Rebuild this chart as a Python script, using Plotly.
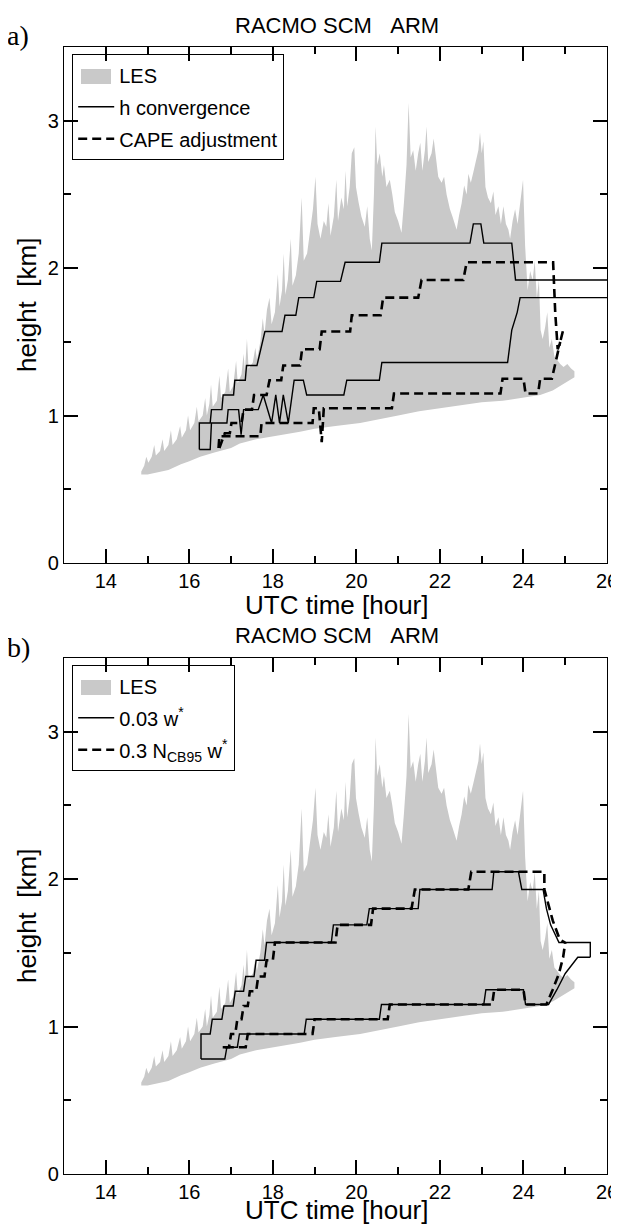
#!/usr/bin/env python3
"""
RACMO SCM, ARM case: cloud base / cloud top height from LES (grey band)
against two SCM closures per panel.

  a) h convergence vs CAPE adjustment
  b) 0.03 w* vs 0.3 N_CB95 w*
"""

import plotly.graph_objects as go

# LES cloud layer envelope (same in both panels), hours / km
les_top_x = [14.85, 14.92, 14.97, 15.02, 15.10, 15.16, 15.20, 15.30, 15.36, 15.40,
             15.50, 15.56, 15.60, 15.70, 15.78, 15.82, 15.92, 15.97, 16.02, 16.12,
             16.18, 16.22, 16.32, 16.38, 16.42, 16.48, 16.52, 16.56, 16.66, 16.72,
             16.76, 16.86, 16.93, 16.97, 17.05, 17.12, 17.16, 17.25, 17.30, 17.33,
             17.38, 17.42, 17.52, 17.58, 17.62, 17.70, 17.76, 17.80, 17.86, 17.92,
             17.97, 18.05, 18.12, 18.16, 18.22, 18.26, 18.30, 18.36, 18.43, 18.47,
             18.55, 18.62, 18.69, 18.74, 18.82, 18.90, 18.96, 19.02, 19.07, 19.14,
             19.22, 19.28, 19.33, 19.38, 19.46, 19.52, 19.56, 19.64, 19.70, 19.74,
             19.78, 19.84, 19.89, 19.95, 19.99, 20.05, 20.12, 20.20, 20.26, 20.32,
             20.37, 20.42, 20.46, 20.50, 20.56, 20.62, 20.66, 20.72, 20.80, 20.86,
             20.92, 21.00, 21.08, 21.14, 21.20, 21.25, 21.30, 21.36, 21.42, 21.48,
             21.53, 21.58, 21.64, 21.68, 21.72, 21.80, 21.85, 21.90, 21.96, 22.04,
             22.10, 22.16, 22.24, 22.30, 22.40, 22.46, 22.52, 22.58, 22.64, 22.68,
             22.74, 22.80, 22.86, 22.92, 22.96, 23.00, 23.04, 23.09, 23.15, 23.22,
             23.28, 23.33, 23.40, 23.46, 23.52, 23.58, 23.64, 23.68, 23.74, 23.80,
             23.86, 23.92, 23.99, 24.04, 24.10, 24.16, 24.22, 24.27, 24.32, 24.37,
             24.41, 24.46, 24.52, 24.57, 24.62, 24.68, 24.74, 24.80, 24.88, 24.96,
             25.05, 25.14, 25.22]
les_top_y = [0.62, 0.66, 0.72, 0.68, 0.72, 0.80, 0.73, 0.76, 0.84, 0.76,
             0.80, 0.90, 0.80, 0.84, 0.93, 0.85, 0.90, 1.00, 0.90, 0.95,
             1.06, 0.96, 1.00, 1.12, 1.00, 1.08, 1.21, 1.06, 1.10, 1.27,
             1.12, 1.16, 1.32, 1.16, 1.20, 1.37, 1.22, 1.28, 1.42, 1.30,
             1.52, 1.32, 1.36, 1.46, 1.38, 1.50, 1.66, 1.55, 1.72, 1.80,
             1.62, 1.70, 1.96, 1.74, 1.85, 2.10, 1.82, 1.92, 2.20, 1.88,
             1.95, 2.10, 2.48, 2.05, 2.10, 2.28, 2.40, 2.62, 2.30, 2.20,
             2.32, 2.28, 2.44, 2.22, 2.35, 2.60, 2.32, 2.48, 2.40, 2.66,
             2.42, 2.55, 2.78, 2.82, 2.55, 2.45, 2.35, 2.28, 2.42, 2.20,
             2.12, 2.50, 2.96, 2.70, 2.78, 2.62, 2.70, 2.55, 2.60, 2.50,
             2.38, 2.32, 2.24, 2.45, 2.70, 3.12, 2.75, 2.80, 2.66, 2.78,
             2.85, 2.66, 2.80, 2.96, 2.72, 2.78, 2.88, 2.76, 2.62, 2.58,
             2.62, 2.50, 2.40, 2.35, 2.26, 2.36, 2.44, 2.56, 2.50, 2.64,
             2.58, 2.65, 2.72, 2.80, 2.92, 2.78, 2.86, 2.55, 2.48, 2.44,
             2.52, 2.36, 2.42, 2.30, 2.42, 2.30, 2.26, 2.20, 2.32, 2.40,
             2.30, 2.46, 2.60, 2.15, 1.85, 1.98, 1.92, 2.05, 1.80, 1.92,
             1.58, 1.52, 1.60, 1.70, 1.46, 1.52, 1.40, 1.38, 1.35, 1.33,
             1.35, 1.32, 1.30]
les_base_x = [14.85, 15.0, 15.3, 15.5, 15.8, 16.0, 16.26, 16.6, 17.0, 17.21,
              17.6, 18.0, 18.65, 19.0, 19.5, 20.09, 20.5, 21.0, 21.5, 22.0,
              22.5, 23.0, 23.5, 24.0, 24.4, 24.7, 25.0, 25.22]
les_base_y = [0.60, 0.60, 0.62, 0.63, 0.67, 0.69, 0.72, 0.75, 0.78, 0.81,
              0.84, 0.86, 0.89, 0.91, 0.93, 0.95, 0.97, 1.00, 1.03, 1.05,
              1.07, 1.09, 1.10, 1.12, 1.14, 1.17, 1.22, 1.26]

# a) h convergence (solid): cloud top and cloud base
hconv_top_x = [16.24, 16.24, 16.50, 16.53, 16.78, 16.81, 17.06, 17.09, 17.34, 17.37,
               17.62, 17.81, 18.22, 18.29, 18.55, 18.62, 18.98, 19.05, 19.62, 19.73,
               20.55, 20.61, 22.72, 22.80, 22.98, 23.05, 23.72, 23.81, 26.0]
hconv_top_y = [0.77, 0.95, 0.95, 1.04, 1.04, 1.14, 1.14, 1.24, 1.24, 1.34,
               1.34, 1.57, 1.57, 1.68, 1.68, 1.80, 1.80, 1.91, 1.91, 2.04,
               2.04, 2.17, 2.17, 2.30, 2.30, 2.17, 2.17, 1.92, 1.92]
hconv_base_x = [16.24, 16.50, 16.53, 16.90, 16.93, 17.18, 17.24, 17.30, 17.65, 17.77,
                17.97, 18.07, 18.16, 18.25, 18.37, 18.51, 18.73, 18.81, 19.70, 19.77,
                20.55, 20.61, 23.62, 23.72, 23.85, 23.92, 26.0]
hconv_base_y = [0.77, 0.77, 0.95, 0.95, 1.04, 1.04, 0.87, 1.04, 1.04, 1.14,
                0.95, 1.14, 0.95, 1.14, 0.95, 1.24, 1.24, 1.14, 1.14, 1.24,
                1.24, 1.36, 1.36, 1.58, 1.70, 1.80, 1.80]

# a) CAPE adjustment (dashed)
cape_top_x = [16.72, 16.85, 16.97, 17.01, 17.25, 17.30, 17.50, 17.55, 17.85, 17.92,
              18.20, 18.25, 18.65, 18.70, 19.12, 19.17, 19.85, 19.89, 20.58, 20.64,
              21.48, 21.56, 22.56, 22.64, 24.71, 24.76, 24.82, 24.88, 24.95]
cape_top_y = [0.78, 0.88, 0.88, 0.95, 0.95, 1.04, 1.04, 1.14, 1.14, 1.24,
              1.24, 1.34, 1.34, 1.45, 1.45, 1.57, 1.57, 1.68, 1.68, 1.80,
              1.80, 1.92, 1.92, 2.04, 2.04, 1.70, 1.45, 1.50, 1.58]
cape_base_x = [16.70, 16.72, 17.70, 17.73, 18.95, 18.98, 19.10, 19.17, 19.22, 20.85,
               20.90, 23.45, 23.50, 24.00, 24.05, 24.35, 24.40, 24.68, 24.80, 24.88]
cape_base_y = [0.78, 0.86, 0.86, 0.95, 0.95, 1.05, 1.05, 0.82, 1.05, 1.05,
               1.15, 1.15, 1.25, 1.25, 1.15, 1.15, 1.25, 1.25, 1.40, 1.50]

# b) 0.03 w* (solid)
w003_top_x = [16.28, 16.28, 16.50, 16.55, 16.78, 16.83, 17.05, 17.10, 17.30, 17.35,
              17.55, 17.60, 17.80, 17.85, 19.40, 19.45, 20.25, 20.31, 21.48, 21.52,
              23.25, 23.29, 23.88, 23.96, 24.47, 24.55, 24.65, 24.85, 25.60, 25.60]
w003_top_y = [0.78, 0.95, 0.95, 1.05, 1.05, 1.14, 1.14, 1.24, 1.24, 1.34,
              1.34, 1.45, 1.45, 1.57, 1.57, 1.69, 1.69, 1.80, 1.80, 1.93,
              1.93, 2.05, 2.05, 1.93, 1.93, 1.80, 1.69, 1.57, 1.57, 1.47]
w003_base_x = [16.28, 16.85, 16.90, 17.15, 17.20, 18.75, 18.80, 20.55, 20.60, 23.05,
               23.10, 24.00, 24.05, 24.60, 24.80, 25.00, 25.30, 25.60]
w003_base_y = [0.78, 0.78, 0.86, 0.86, 0.95, 0.95, 1.05, 1.05, 1.15, 1.15,
               1.25, 1.25, 1.15, 1.15, 1.25, 1.36, 1.47, 1.47]

# b) 0.3 N_CB95 w* (dashed)
ncb_top_x = [16.80, 16.95, 17.00, 17.10, 17.15, 17.25, 17.30, 17.40, 17.45, 17.60,
             17.65, 17.80, 17.85, 18.00, 18.05, 19.50, 19.55, 20.35, 20.40, 21.32,
             21.40, 22.68, 22.75, 24.50, 24.50, 24.60, 24.70, 24.87, 25.00]
ncb_top_y = [0.86, 0.86, 0.95, 0.95, 1.05, 1.05, 1.14, 1.14, 1.24, 1.24,
             1.34, 1.34, 1.45, 1.45, 1.57, 1.57, 1.69, 1.69, 1.80, 1.80,
             1.93, 1.93, 2.05, 2.05, 1.93, 1.82, 1.72, 1.59, 1.57]
ncb_base_x = [16.85, 17.35, 17.40, 18.95, 19.00, 20.75, 20.80, 23.25, 23.30, 24.00,
              24.05, 24.55, 24.70, 24.85, 24.95, 25.00]
ncb_base_y = [0.86, 0.86, 0.95, 0.95, 1.05, 1.05, 1.15, 1.15, 1.25, 1.25,
              1.15, 1.15, 1.25, 1.36, 1.47, 1.57]

TITLE = "RACMO SCM\u00a0\u00a0\u00a0ARM"
PANELS = ["a)", "b)"]
LEGEND_A = ["LES", "h convergence", "CAPE adjustment"]
LEGEND_B = ["LES", "0.03 w<sup>*</sup>", "0.3 N<sub>CB95</sub> w<sup>*</sup>"]

# page geometry in screen pixels (the html body adds an 8px margin)
PAGE_W, PAGE_H, BODY = 619, 1225, 8
AX_L, AX_R = 64, 607
A_TOP, B_BOT = 47, 1174
A_BOT, B_TOP = 563, 658
SHIFT = B_TOP - A_TOP  # offset between the two panels

SANS = "Liberation Sans, Arial, Helvetica, sans-serif"
SERIF = "Liberation Serif, Times New Roman, serif"
GREY = "#c9c9c9"


def px_x(sx):
    return (sx - AX_L) / (AX_R - AX_L)


def px_y(sy):
    return (B_BOT - sy) / (B_BOT - A_TOP)


def joined(xa, ya, xb, yb):
    return xa + [None] + xb, ya + [None] + yb


def add_panel(fig, row, names, solid, dashed):
    xa, ya = ("x", "y") if row == 1 else ("x2", "y2")
    leg = "legend" if row == 1 else "legend2"

    fig.add_trace(go.Scatter(
        x=les_top_x + les_base_x[::-1],
        y=les_top_y + les_base_y[::-1],
        fill="toself", fillcolor=GREY, mode="lines",
        line=dict(width=0, color=GREY),
        xaxis=xa, yaxis=ya, showlegend=False,
    ))
    # legend entry for LES; its grey key is a layout shape (see build_figure)
    fig.add_trace(go.Scatter(
        x=[None], y=[None], mode="lines",
        line=dict(width=0, color="rgba(0,0,0,0)"),
        name=names[0], xaxis=xa, yaxis=ya, legend=leg, legendgroup=f"les{row}",
    ))
    sx, sy = joined(*solid)
    fig.add_trace(go.Scatter(
        x=sx, y=sy, mode="lines", line=dict(color="black", width=1.4),
        name=names[1], xaxis=xa, yaxis=ya, legend=leg, legendgroup=f"sol{row}",
    ))
    dx, dy = joined(*dashed)
    fig.add_trace(go.Scatter(
        x=dx, y=dy, mode="lines",
        line=dict(color="black", width=2.6, dash="9px,5px"),
        name=names[2], xaxis=xa, yaxis=ya, legend=leg, legendgroup=f"das{row}",
    ))


def axis(kind):
    minor = dict(ticks="inside", ticklen=7, tickwidth=1.5,
                 tickcolor="black", showgrid=False)
    ax = dict(
        showline=True, linecolor="black", linewidth=1.4, mirror="allticks",
        ticks="inside", ticklen=14, tickwidth=1.5, tickcolor="black",
        showgrid=False, zeroline=False,
        ticklabeloverflow="allow",
        tickfont=dict(size=20, color="black", family=SANS),
    )
    if kind == "x":
        ax.update(range=[13, 26], tick0=0, dtick=2)
        minor.update(tick0=0, dtick=1)
    else:
        ax.update(range=[0, 3.5], tick0=0, dtick=1)
        minor.update(tick0=0, dtick=0.5)
    ax["minor"] = minor
    return ax


def build_figure():
    fig = go.Figure()
    add_panel(fig, 1, LEGEND_A,
              (hconv_top_x, hconv_top_y, hconv_base_x, hconv_base_y),
              (cape_top_x, cape_top_y, cape_base_x, cape_base_y))
    add_panel(fig, 2, LEGEND_B,
              (w003_top_x, w003_top_y, w003_base_x, w003_base_y),
              (ncb_top_x, ncb_top_y, ncb_base_x, ncb_base_y))

    top_dom = [px_y(A_BOT), 1.0]
    bot_dom = [0.0, px_y(B_TOP)]

    legend_common = dict(
        xanchor="left", yanchor="top", bgcolor="rgba(0,0,0,0)",
        bordercolor="black", borderwidth=1.2,
        font=dict(size=20, color="black", family=SANS),
        tracegroupgap=3, itemwidth=36,
    )

    ann = []
    shapes = []
    for i, letter in enumerate(PANELS):
        off = i * SHIFT
        ann.append(dict(x=px_x(337), y=px_y(25 + off), text=TITLE,
                        font=dict(size=22, family=SANS)))
        ann.append(dict(x=px_x(18), y=px_y(36 + off), text=letter,
                        font=dict(size=28, family=SERIF)))
        ann.append(dict(x=px_x(337), y=px_y(605 + off - 6 * i), text="UTC time [hour]",
                        font=dict(size=26, family=SANS)))
        ann.append(dict(x=px_x(27), y=px_y(305 + off), text="height\u00a0 [km]",
                        textangle=-90, font=dict(size=26, family=SANS)))
        # grey LES key inside the legend box
        shapes.append(dict(type="rect", xref="paper", yref="paper",
                           x0=px_x(81), x1=px_x(111),
                           y0=px_y(84 + off), y1=px_y(69 + off),
                           fillcolor=GREY, line=dict(width=0), layer="above"))
    for a in ann:
        a.update(xref="paper", yref="paper", showarrow=False,
                 xanchor="center", yanchor="middle")
        a["font"]["color"] = "black"

    fig_w, fig_h = PAGE_W - BODY, PAGE_H - BODY
    fig.update_layout(
        template="none",
        width=fig_w, height=fig_h,
        margin=dict(l=AX_L - BODY, r=fig_w - (AX_R - BODY),
                    t=A_TOP - BODY, b=fig_h - (B_BOT - BODY)),
        paper_bgcolor="white", plot_bgcolor="white",
        font=dict(family=SANS, color="black"),
        xaxis=dict(axis("x"), domain=[0, 1], anchor="y"),
        yaxis=dict(axis("y"), domain=top_dom, anchor="x"),
        xaxis2=dict(axis("x"), domain=[0, 1], anchor="y2"),
        yaxis2=dict(axis("y"), domain=bot_dom, anchor="x2"),
        legend=dict(legend_common, x=px_x(72), y=px_y(54)),
        legend2=dict(legend_common, x=px_x(72), y=px_y(54 + SHIFT)),
        annotations=ann,
        shapes=shapes,
        showlegend=True,
    )
    return fig


def main():
    fig = build_figure()
    fig.write_html("out.html")


if __name__ == "__main__":
    main()
